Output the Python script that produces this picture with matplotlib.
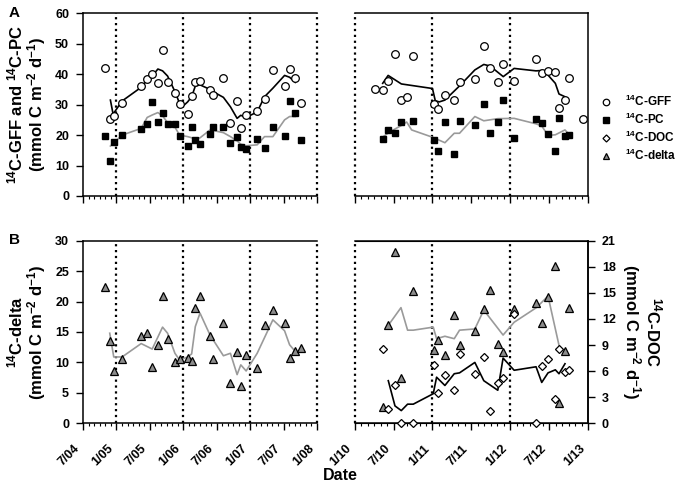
import numpy as np
import matplotlib
matplotlib.use('Agg')
import matplotlib.pyplot as plt
import matplotlib.transforms as mtransforms
from matplotlib.ticker import MultipleLocator, NullFormatter

plt.rcParams['font.family'] = ['Liberation Sans', 'DejaVu Sans']
plt.rcParams['font.weight'] = 'bold'
plt.rcParams['mathtext.fontset'] = 'custom'
plt.rcParams['mathtext.rm'] = 'Liberation Sans:bold'
plt.rcParams['mathtext.it'] = 'Liberation Sans:bold'
plt.rcParams['mathtext.bf'] = 'Liberation Sans:bold'
plt.rcParams['axes.unicode_minus'] = True

nan = np.nan

# ---- period 1 (2004-2008), sampling dates in decimal years
t1 = [2004.825, 2004.90, 2004.96, 2005.085, 2005.37, 2005.45, 2005.535, 2005.615, 2005.69, 2005.765,
      2005.875, 2005.945, 2006.065, 2006.125, 2006.18, 2006.25, 2006.40, 2006.45, 2006.60, 2006.705,
      2006.805, 2006.86, 2006.94, 2007.105, 2007.215, 2007.34, 2007.515, 2007.59, 2007.675, 2007.755]
gff1 = [42.2, 25.2, 26.4, 30.7, 36.2, 38.5, 40.1, 37.1, 48.0, 37.3,
        33.7, 30.1, 27.0, 32.8, 37.3, 37.9, 34.8, 33.1, 38.8, 24.1,
        31.3, 22.2, 26.5, 27.8, 31.9, 41.3, 36.0, 41.8, 38.9, 30.5]
pc1 = [19.8, 11.6, 17.8, 20.1, 21.9, 23.8, 31.0, 24.3, 27.2, 23.5,
       23.8, 19.8, 16.5, 22.7, 18.4, 17.1, 20.4, 22.6, 22.6, 17.5,
       19.5, 16.1, 15.5, 18.8, 15.9, 22.7, 19.7, 31.3, 27.2, 18.4]
delta1 = [22.4, 13.6, 8.6, 10.5, 14.4, 14.9, 9.3, 12.9, 20.9, 13.8,
          10.1, 10.5, 10.8, 10.3, 19.0, 20.9, 14.4, 10.5, 16.4, 6.7,
          11.7, 6.2, 11.2, 9.1, 16.1, 18.6, 16.5, 10.7, 11.8, 12.3]

# running means, period 1
gff_line_t1 = [2004.91, 2004.95, 2005.085, 2005.37, 2005.46, 2005.535, 2005.62, 2005.69, 2005.765, 2005.875,
               2005.945, 2006.01, 2006.065, 2006.125, 2006.18, 2006.25, 2006.40, 2006.45, 2006.60, 2006.705,
               2006.805, 2006.86, 2006.94, 2007.105, 2007.215, 2007.34, 2007.515, 2007.59, 2007.675]
gff_line1 = [31.5, 26.9, 31.2, 35.7, 38.1, 39.4, 41.7, 41.1, 39.4, 34.3,
             30.4, 29.8, 30.9, 32.6, 36.1, 36.5, 35.0, 34.2, 32.4, 29.3,
             25.5, 26.5, 25.8, 27.6, 32.6, 35.4, 39.6, 39.0, 37.3]
pc_line_t1 = [2004.91, 2005.085, 2005.37, 2005.46, 2005.535, 2005.62, 2005.69, 2005.765, 2005.875, 2005.945,
              2006.065, 2006.18, 2006.25, 2006.40, 2006.45, 2006.60, 2006.705, 2006.805, 2006.86, 2006.94,
              2007.105, 2007.215, 2007.34, 2007.515, 2007.59, 2007.675]
pc_line1 = [16.4, 20.0, 22.2, 25.8, 26.6, 27.4, 26.3, 24.1, 22.6, 20.0,
            19.5, 18.8, 19.1, 21.7, 21.5, 20.8, 19.5, 18.1, 17.0, 16.5,
            16.8, 19.5, 19.5, 25.0, 26.1, 26.1]
delta_line_t1 = [2004.90, 2004.96, 2005.085, 2005.37, 2005.535, 2005.69, 2005.765, 2005.875, 2005.945, 2006.065,
                 2006.125, 2006.18, 2006.25, 2006.40, 2006.60, 2006.705, 2006.805, 2006.86, 2006.94, 2007.105,
                 2007.34, 2007.515, 2007.59, 2007.675]
delta_line1 = [14.8, 10.9, 10.9, 13.1, 12.2, 15.8, 14.8, 11.5, 10.4, 10.9,
               11.4, 15.9, 18.1, 14.5, 11.1, 11.5, 8.0, 9.6, 8.6, 11.5,
               17.0, 15.2, 12.9, 11.8]

# ---- period 2 (2010-2013)
t2 = [2010.26, 2010.37, 2010.43, 2010.52, 2010.60, 2010.67, 2010.75, 2011.02, 2011.07, 2011.16,
      2011.28, 2011.35, 2011.55, 2011.66, 2011.74, 2011.84, 2011.91, 2012.05, 2012.33, 2012.41,
      2012.49, 2012.58, 2012.63, 2012.70, 2012.76, 2012.93]
gff2 = [35.0, 34.8, 37.7, 46.6, 31.5, 32.4, 46.1, 30.3, 28.6, 33.3,
        31.4, 37.3, 38.4, 49.1, 42.2, 37.3, 43.4, 37.7, 45.1, 40.5,
        41.1, 40.6, 28.9, 31.6, 38.8, 25.4]
pc2 = [nan, 18.8, 21.7, 20.8, 24.2, nan, 24.7, 18.4, 14.7, 24.2,
       13.7, 24.7, 23.4, 30.3, 20.6, 24.2, 31.6, 18.9, 25.4, 24.1,
       20.3, 14.9, 25.6, 19.7, 20.0, nan]
delta2 = [nan, 2.7, 16.1, 28.1, 7.5, nan, 21.7, 12.1, 13.7, 11.2,
          17.8, 12.8, 15.1, 18.8, 21.9, 13.1, 11.7, 18.8, 19.8, 16.5,
          20.8, 25.8, 3.3, 11.9, 19.0, nan]
doc2 = [nan, 8.6, 1.65, 4.35, 0.0, nan, 0.0, 6.65, 3.46, 5.6,
        3.8, 8.0, 5.7, 7.6, 1.46, 4.6, 5.2, 12.6, 0.0, 6.6,
        7.35, 2.8, 8.5, 5.9, 6.15, nan]

gff_line_t2 = [2010.36, 2010.43, 2010.60, 2011.00, 2011.036, 2011.087, 2011.16, 2011.35, 2011.545, 2011.66,
               2011.74, 2011.91, 2012.05, 2012.33, 2012.405, 2012.486, 2012.58, 2012.627, 2012.704]
gff_line2 = [37.0, 39.6, 36.8, 35.3, 31.3, 30.9, 31.5, 36.2, 41.4, 43.2,
             42.7, 39.2, 41.9, 41.1, 41.2, 39.7, 37.0, 33.5, 32.6]
pc_line_t2 = [2010.368, 2010.454, 2010.603, 2010.668, 2010.732, 2011.00, 2011.16, 2011.28, 2011.348, 2011.545,
              2011.66, 2011.84, 2012.05, 2012.332, 2012.405, 2012.486, 2012.58, 2012.704, 2012.764]
pc_line2 = [19.5, 21.1, 23.2, 24.3, 21.7, 19.3, 17.5, 20.6, 20.6, 26.1,
            24.7, 25.4, 25.5, 23.7, 23.0, 19.9, 20.1, 21.7, 20.0]
delta_line_t2 = [2010.432, 2010.595, 2010.68, 2010.753, 2011.01, 2011.053, 2011.16, 2011.28, 2011.348, 2011.545,
                 2011.66, 2011.908, 2012.05, 2012.336, 2012.486, 2012.636]
delta_line2 = [16.1, 19.0, 15.3, 15.3, 15.8, 13.9, 14.3, 13.9, 15.3, 15.5,
               18.6, 14.5, 16.6, 19.0, 20.9, 12.3]
doc_line_t2 = [2010.432, 2010.518, 2010.599, 2010.68, 2010.753, 2011.01, 2011.053, 2011.16, 2011.28, 2011.348,
               2011.545, 2011.66, 2011.84, 2011.908, 2012.05, 2012.332, 2012.405, 2012.486, 2012.58, 2012.627,
               2012.704]
doc_line2 = [4.9, 2.0, 1.46, 2.2, 2.2, 3.4, 5.3, 4.35, 5.7, 5.8,
             7.0, 4.9, 3.8, 7.5, 6.1, 6.5, 4.7, 5.8, 6.15, 5.7,
             6.85]

xticks1 = [2004.5, 2005.0, 2005.5, 2006.0, 2006.5, 2007.0, 2007.5, 2008.0]
xlabels1 = ['7/04', '1/05', '7/05', '1/06', '7/06', '1/07', '7/07', '1/08']
xticks2 = [2010.0, 2010.5, 2011.0, 2011.5, 2012.0, 2012.5, 2013.0]
xlabels2 = ['1/10', '7/10', '1/11', '7/11', '1/12', '7/12', '1/13']
years1 = [2005.0, 2006.0, 2007.0, 2008.0]
years2 = [2010.0, 2011.0, 2012.0]

W, H = 684, 492
fig = plt.figure(figsize=(W / 100, H / 100), dpi=100)


def px(x0, y0, x1, y1):
    return [x0 / W, 1 - y1 / H, (x1 - x0) / W, (y1 - y0) / H]


ax_a1 = fig.add_axes(px(83, 13.3, 317, 196))
ax_a2 = fig.add_axes(px(354.7, 13.3, 588, 196))
ax_b1 = fig.add_axes(px(83, 240.7, 317, 423.3))
ax_b2 = fig.add_axes(px(354.7, 240.7, 588, 423.3))
ax_b2r = ax_b2.twinx()

gff_kw = dict(ls='none', marker='o', ms=5.5, mfc='white', mec='black', mew=0.9, zorder=4)
pc_kw = dict(ls='none', marker='s', ms=4.6, mfc='black', mec='black', zorder=4)
doc_kw = dict(ls='none', marker='D', ms=4.2, mfc='white', mec='black', mew=0.9, zorder=4, clip_on=False)
delta_kw = dict(ls='none', marker='^', ms=5.5, mfc='#8c8c8c', mec='black', mew=0.9, zorder=4, clip_on=False)
black_line = dict(color='black', lw=1.2, zorder=3)
gray_line = dict(color='#9a9a9a', lw=1.2, zorder=3)

# panel A
ax_a1.plot(gff_line_t1, gff_line1, **black_line)
ax_a1.plot(pc_line_t1, pc_line1, **gray_line)
h_gff, = ax_a1.plot(t1, gff1, **gff_kw)
h_pc, = ax_a1.plot(t1, pc1, **pc_kw)
ax_a2.plot(gff_line_t2, gff_line2, **black_line)
ax_a2.plot(pc_line_t2, pc_line2, **gray_line)
ax_a2.plot(t2, gff2, **gff_kw)
ax_a2.plot(t2, pc2, **pc_kw)

# panel B
ax_b1.plot(delta_line_t1, delta_line1, **gray_line)
h_delta, = ax_b1.plot(t1, delta1, **delta_kw)
ax_b2.plot(delta_line_t2, delta_line2, **gray_line)
ax_b2.plot(t2, delta2, **delta_kw)
ax_b2r.plot(doc_line_t2, doc_line2, **black_line)
h_doc, = ax_b2r.plot(t2, doc2, **doc_kw)

for ax in [ax_a1, ax_a2, ax_b1, ax_b2]:
    ax.xaxis.set_minor_locator(MultipleLocator(1 / 12))
    ax.tick_params(axis='x', which='major', direction='out', length=5, width=1, labelsize=9, pad=12)
    ax.tick_params(axis='x', which='minor', direction='out', length=2.5, width=0.8)
    ax.tick_params(axis='y', direction='out', length=5, width=1, labelsize=9, pad=5)
    for s in ax.spines.values():
        s.set_linewidth(1.1)

for ax in [ax_a1, ax_b1]:
    ax.set_xlim(2004.5, 2008.0)
    ax.set_xticks(xticks1)
    ax.spines['right'].set_visible(False)
    for y in years1:
        ax.axvline(y, color='black', ls=':', lw=1.6, clip_on=False, zorder=2)

for ax in [ax_a2, ax_b2]:
    ax.set_xlim(2010.0, 2013.0)
    ax.set_xticks(xticks2)
    ax.spines['left'].set_visible(False)
    ax.tick_params(axis='y', left=False, labelleft=False)
    for y in years2:
        ax.axvline(y, color='black', ls=':', lw=1.6, clip_on=False, zorder=2)

ax_a1.set_ylim(0, 60)
ax_a2.set_ylim(0, 60)
ax_a1.set_yticks([0, 10, 20, 30, 40, 50, 60])
ax_a1.xaxis.set_major_formatter(NullFormatter())
ax_a2.xaxis.set_major_formatter(NullFormatter())

ax_b1.set_ylim(0, 30)
ax_b2.set_ylim(0, 30)
ax_b1.set_yticks([0, 5, 10, 15, 20, 25, 30])
ax_b2r.set_ylim(0, 21)
ax_b2r.set_yticks([0, 3, 6, 9, 12, 15, 18, 21])
ax_b2r.tick_params(axis='y', direction='out', length=5, width=1, labelsize=9, pad=5)
ax_b2r.spines['left'].set_visible(False)
ax_b2r.spines['right'].set_linewidth(1.1)

shift = mtransforms.ScaledTranslation(-5 / 100, 0, fig.dpi_scale_trans)
for ax, labels in [(ax_b1, xlabels1), (ax_b2, xlabels2)]:
    ax.set_xticklabels(labels, rotation=45, ha='right', va='center', rotation_mode='anchor')
    for lab in ax.get_xticklabels():
        lab.set_transform(lab.get_transform() + shift)

unit = '(mmol C m$^{-2}$ d$^{-1}$)'
ax_a1.set_ylabel('$^{14}$C-GFF and $^{14}$C-PC\n' + unit, fontsize=12, fontweight='bold', labelpad=5, linespacing=1.0)
ax_b1.set_ylabel('$^{14}$C-delta\n' + unit, fontsize=12, fontweight='bold', labelpad=5, linespacing=1.0)
ax_b2r.set_ylabel('$^{14}$C-DOC\n' + unit, fontsize=12, fontweight='bold', rotation=270,
                  labelpad=34, linespacing=1.0)

fig.text(9 / W, 1 - 13 / H, 'A', fontsize=11, fontweight='bold', va='center', ha='left')
fig.text(9 / W, 1 - 240 / H, 'B', fontsize=11, fontweight='bold', va='center', ha='left')
fig.text(340 / W, 1 - 476 / H, 'Date', fontsize=11.5, fontweight='bold', ha='center', va='center')

fig.legend([h_gff, h_pc, h_doc, h_delta],
           ['$^{14}$C-GFF', '$^{14}$C-PC', '$^{14}$C-DOC', '$^{14}$C-delta'],
           loc='upper left', bbox_to_anchor=(588 / W, 1 - 83 / H), frameon=False,
           fontsize=8.5, markerscale=0.85, handlelength=1.2, handletextpad=1.0, labelspacing=0.25)

fig.savefig('out.png', dpi=100)
